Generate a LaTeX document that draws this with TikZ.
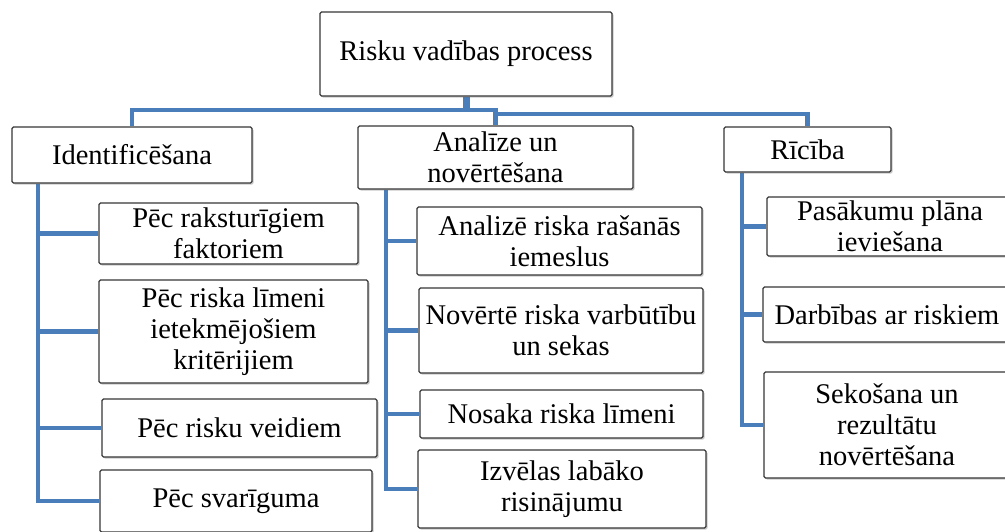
\documentclass[tikz,border=0pt]{standalone}
\usepackage{fontspec}
\setmainfont{Liberation Serif}
\usetikzlibrary{shadows,backgrounds}
\definecolor{lineblue}{RGB}{74,126,187}
\definecolor{boxline}{RGB}{55,55,55}
\tikzset{
  box/.style={draw=boxline, line width=1.3pt, rounded corners=1.5pt, fill=white,
    align=center, inner sep=1pt, anchor=center,
    font=\fontsize{28.5}{31}\selectfont,
    drop shadow={shadow xshift=1.6pt, shadow yshift=-1.6pt, opacity=0.35, fill=black!60}},
  conn/.style={draw=lineblue, line width=4.2pt},
  stem/.style={draw=lineblue, line width=7pt}
}
\begin{document}
\begin{tikzpicture}[x=1pt, y=-1pt]
\useasboundingbox (0,0) rectangle (1005,531);
\begin{scope}
\clip (0,0) rectangle (1005,531);
\coordinate (busY) at (0,110);
\coordinate (busY2) at (0,114);
\coordinate (lx) at (38,0);
\coordinate (mx) at (386,0);
\coordinate (rx) at (742,0);

\path
 (466,54) node[box, minimum width=292, minimum height=84] (top) {Risku vadības process}
 (132,155) node[box, minimum width=240, minimum height=56] (ident) {Identificēšana}
 (495.5,157.5) node[box, minimum width=275, minimum height=63] (anal) {Analīze un\\novērtēšana}
 (807.5,149.5) node[box, minimum width=167, minimum height=45] (ric) {Rīcība}
 (228.5,233.5) node[box, minimum width=259, minimum height=61] (L1) {Pēc raksturīgiem\\faktoriem}
 (233.5,331.5) node[box, minimum width=269, minimum height=103] (L2) {Pēc riska līmeni\\ietekmējošiem\\kritērijiem}
 (239.5,428) node[box, minimum width=275, minimum height=58] (L3) {Pēc risku veidiem}
 (236,501) node[box, minimum width=272, minimum height=62] (L4) {Pēc svarīguma}
 (559.5,241) node[box, minimum width=285, minimum height=68] (M1) {Analizē riska rašanās\\iemeslus}
 (561,330.5) node[box, minimum width=284, minimum height=85] (M2) {Novērtē riska varbūtību\\un sekas}
 (561.5,414) node[box, minimum width=283, minimum height=48] (M3) {Nosaka riska līmeni}
 (562,489) node[box, minimum width=288, minimum height=78] (M4) {Izvēlas labāko\\risinājumu}
 (890,226.5) node[box, minimum width=246, minimum height=59] (R1) {Pasākumu plāna\\ieviešana}
 (887,314.5) node[box, minimum width=248, minimum height=55] (R2) {Darbības ar riskiem}
 (887,425) node[box, minimum width=246, minimum height=106] (R3) {Sekošana un\\rezultātu\\novērtēšana};

\begin{pgfonlayer}{background}
\fill[white] (0,0) rectangle (1005,531);
% top bus
\draw[stem] (top.south) -- (top.south |- busY);
\draw[conn] (top.south |- busY) -| (ident.north);
\draw[conn] (top.south |- busY) -| (anal.north);
\draw[conn] (anal.north |- busY2) -| (ric.north);
% left column
\draw[conn] (ident.south -| lx) |- (L4.west);
\draw[conn] (L1.west -| lx) -- (L1.west);
\draw[conn] (L2.west -| lx) -- (L2.west);
\draw[conn] (L3.west -| lx) -- (L3.west);
% middle column
\draw[conn] (anal.south -| mx) |- (M4.west);
\draw[conn] (M1.west -| mx) -- (M1.west);
\draw[conn] (M2.west -| mx) -- (M2.west);
\draw[conn] (M3.west -| mx) -- (M3.west);
% right column
\draw[conn] (ric.south -| rx) |- (R3.west);
\draw[conn] (R1.west -| rx) -- (R1.west);
\draw[conn] (R2.west -| rx) -- (R2.west);
\end{pgfonlayer}
\end{scope}
\end{tikzpicture}
\end{document}
